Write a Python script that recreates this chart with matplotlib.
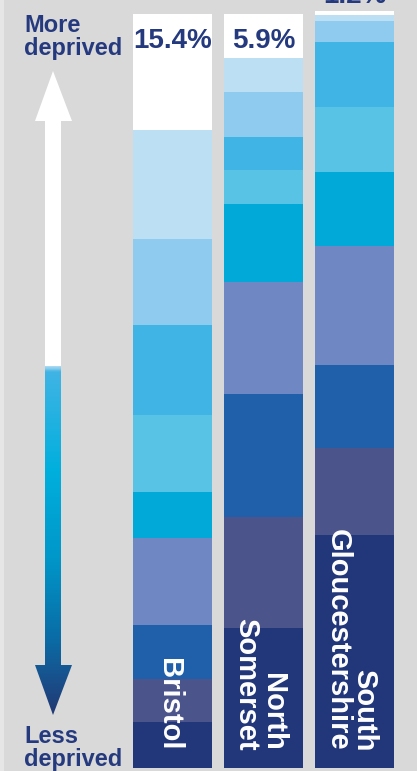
import matplotlib
matplotlib.use("Agg")
import matplotlib.pyplot as plt
import numpy as np
from matplotlib.patches import Polygon, Rectangle
from matplotlib.colors import LinearSegmentedColormap

plt.rcParams['font.family'] = ['Liberation Sans', 'DejaVu Sans']

# ---- data (deprivation deciles, most deprived first) ----
areas = ["Bristol", "North\nSomerset", "South\nGloucestershire"]
bristol = [15.4, 14.4, 11.4, 11.9, 10.2, 6.2, 11.4, 7.2, 5.7, 6.1]
north_somerset = [5.9, 4.4, 6.0, 4.4, 4.5, 10.3, 14.8, 16.3, 14.8, 18.5]
south_glos = [0.5, 0.8, 2.9, 8.6, 8.5, 9.8, 15.8, 11.0, 11.5, 30.9]
top_labels = ["15.4%", "5.9%", "1.2%"]
decile_colors = ["#ffffff", "#bddff4", "#8fcbee", "#40b4e5", "#58c3e4",
                 "#00a9d8", "#6f88c4", "#2060aa", "#4c548c", "#22367a"]

navy = "#253a7e"
bg = "#d9d9d9"

W, H = 417, 771
fig = plt.figure(figsize=(W / 100, H / 100), dpi=100, facecolor=bg)

# overlay axes in pixel coordinates for decorations
ov = fig.add_axes([0, 0, 1, 1], zorder=0)
ov.set_xlim(0, W)
ov.set_ylim(H, 0)
ov.axis("off")
ov.add_patch(Rectangle((0, 0), 4, H, facecolor="#e6e6e6", edgecolor="none"))

# white up arrow
cx = 53
up = Polygon([(cx, 71), (72, 121), (61, 121), (61, 366), (45, 366), (45, 121), (35, 121)],
             closed=True, facecolor="white", edgecolor="none")
ov.add_patch(up)

# gradient down arrow
down = Polygon([(45, 366), (61, 366), (61, 665), (72, 665), (cx, 715), (35, 665), (45, 665)],
               closed=True, facecolor="none", edgecolor="none")
ov.add_patch(down)
cmap = LinearSegmentedColormap.from_list(
    "arr", [(0.0, "#a8d8f2"), (0.015, "#40b4e5"), (0.3, "#00afdd"),
            (0.55, "#0097c9"), (0.78, "#0a6ca6"), (0.86, "#145a95"), (1.0, "#223873")])
grad = np.linspace(0, 1, 256).reshape(-1, 1)
im = ov.imshow(grad, cmap=cmap, aspect="auto", extent=[35, 72, 715, 366], origin="upper")
im.set_clip_path(down)

# side texts
ov.text(24, 32, "More", color=navy, fontsize=17, fontweight="bold", ha="left", va="baseline")
ov.text(24, 55, "deprived", color=navy, fontsize=17, fontweight="bold", ha="left", va="baseline")
ov.text(24, 743, "Less", color=navy, fontsize=17, fontweight="bold", ha="left", va="baseline")
ov.text(24, 766, "deprived", color=navy, fontsize=17, fontweight="bold", ha="left", va="baseline")

# bars axes
x0, x1 = 127, 400
y_bot, y_top = 768, 13
ax = fig.add_axes([x0 / W, (H - y_bot) / H, (x1 - x0) / W, (y_bot - y_top) / H], zorder=1)
ax.patch.set_alpha(0)
ax.set_xlim(-0.5, 2.5)
ax.set_ylim(0, 100)
ax.axis("off")

series = [bristol, north_somerset, south_glos]
xs = np.arange(len(areas))
for i, vals in enumerate(series):
    bottom = 0.0
    for v, c in zip(vals[::-1], decile_colors[::-1]):
        ax.bar(xs[i], v, bottom=bottom, width=0.868, color=c, edgecolor="none", clip_on=False)
        bottom += v

# percentage labels
ax.text(0, 95.4, top_labels[0], color=navy, fontsize=20, fontweight="bold",
        ha="center", va="baseline", clip_on=False)
ax.text(1, 95.4, top_labels[1], color=navy, fontsize=20, fontweight="bold",
        ha="center", va="baseline", clip_on=False)
ax.text(2, 101.3, top_labels[2], color=navy, fontsize=20, fontweight="bold",
        ha="center", va="baseline", clip_on=False)

# area names (rotated)
yname = (y_bot - 751) / 7.55
for i, name in enumerate(areas):
    ax.text(xs[i] - 0.04, yname, name, color="white", fontsize=21, fontweight="bold",
            rotation=270, ha="center", va="bottom", multialignment="right",
            linespacing=0.95, clip_on=False)

fig.savefig("out.png", dpi=100, facecolor=bg)
